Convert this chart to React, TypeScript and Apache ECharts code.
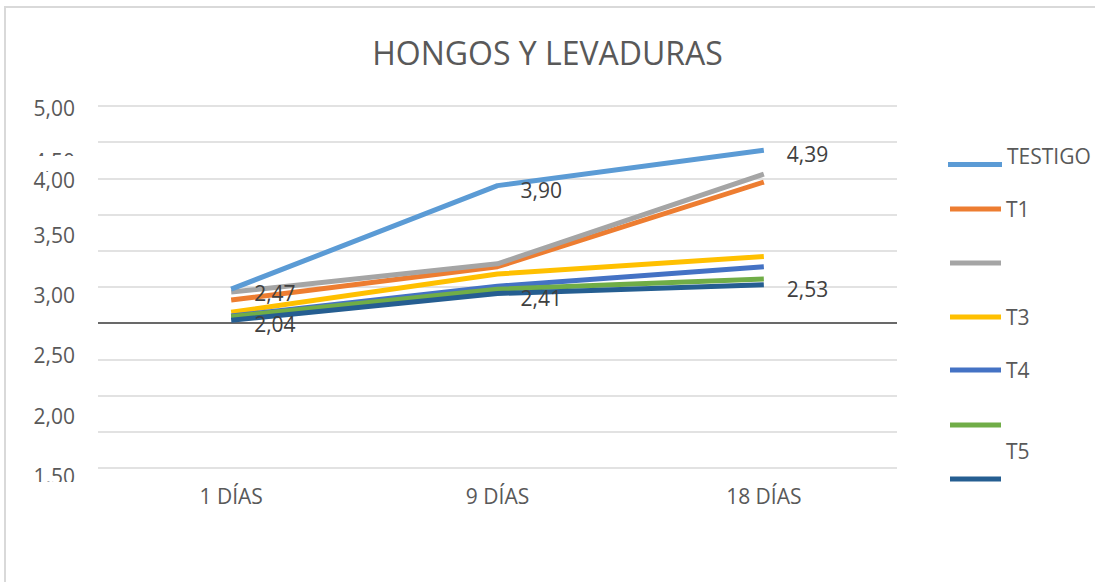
import React, { useEffect, useRef } from "react";
import * as echarts from "echarts";

// ---- data ----
const categories = ["1 DÍAS", "9 DÍAS", "18 DÍAS"];
const seriesNames = ["TESTIGO", "T1", "T2", "T3", "T4", "T5", "T6"];
const testigo = [2.47, 3.9, 4.39];
const t1 = [2.32, 2.78, 3.95];
const t2 = [2.43, 2.82, 4.06];
const t3 = [2.15, 2.68, 2.92];
const t4 = [2.1, 2.51, 2.78];
const t5 = [2.09, 2.47, 2.61];
const t6 = [2.04, 2.41, 2.53];
const legendTexts = ["TESTIGO", "T1", "", "T3", "T4", "", "T5"];
const yTickLabels = ["5,00", "4,50", "4,00", "3,50", "3,00", "2,50", "2,00", "1,50"];
const crossValue = 2;

// ---- layout / style ----
const colors = ["#5B9BD5", "#ED7D31", "#A5A5A5", "#FFC000", "#4472C4", "#70AD47", "#255E91"];
const labelled = [true, false, false, false, false, false, true];
const seriesZ = [10, 3, 4, 5, 6, 7, 9];
const yLabelY = [108, 161, 180, 235, 295, 355, 416, 476];
const legendIconY = [163, 209, 263, 317, 370, 425, 479];
// text lines stacked below the label (to lift the label above its icon) and line height per item
const legendExtraLines = [1, 0, 0, 0, 0, 0, 2];
const legendLineH = [18, 28, 28, 28, 28, 28, 28];
const legendLeft = [948, 950, 950, 950, 950, 950, 950];
const legendItemW = [54, 51, 51, 51, 51, 51, 51];
const FONT = "Open Sans";
const TXT = "#595959";

export default function App() {
  const ref = useRef<HTMLDivElement>(null);
  useEffect(() => {
    if (!ref.current) return;
    const chart = echarts.init(ref.current, undefined, { renderer: "svg" });
    const allData = [testigo, t1, t2, t3, t4, t5, t6];
    const series: any[] = allData.map((d, i) => ({
      name: seriesNames[i],
      type: "line",
      data: d,
      symbol: labelled[i] ? "circle" : "none",
      symbolSize: 0.01,
      showSymbol: labelled[i],
      lineStyle: { width: 5, color: colors[i] },
      itemStyle: { color: colors[i] },
      label: labelled[i]
        ? {
            show: true,
            position: "right",
            distance: 23,
            offset: [0, 4],
            fontFamily: FONT,
            fontSize: 21,
            color: "#404040",
            formatter: (p: any) => Number(p.value).toFixed(2).replace(".", ","),
          }
        : { show: false },
      z: seriesZ[i],
    }));
    series[6].markLine = {
      silent: true,
      symbol: ["none", "none"],
      label: { show: false },
      lineStyle: { color: "#404040", width: 1.5, type: "solid" },
      data: [{ yAxis: crossValue }],
    };

    const legends = seriesNames.map((n, i) => {
      const txt = legendTexts[i];
      const lines = 1 + legendExtraLines[i];
      const H = txt ? lines * legendLineH[i] : 5;
      return {
        data: [n],
        orient: "vertical",
        left: legendLeft[i],
        top: legendIconY[i] - H / 2,
        padding: 0,
        itemWidth: legendItemW[i],
        itemHeight: 5,
        icon: "rect",
        selectedMode: false,
        formatter: () => (txt ? txt + "\n".repeat(legendExtraLines[i]) : ""),
        textStyle: {
          fontFamily: FONT,
          fontSize: 21,
          lineHeight: legendLineH[i],
          color: TXT,
        },
      };
    });

    const graphics: any[] = [
      {
        type: "rect",
        shape: { x: 5, y: 7, width: 1200, height: 700 },
        style: { fill: "none", stroke: "#D9D9D9", lineWidth: 2 },
        silent: true,
      },
    ];
    yTickLabels.forEach((t, i) => {
      graphics.push({
        type: "text",
        x: 75,
        y: yLabelY[i],
        style: {
          text: t,
          fontFamily: FONT,
          fontSize: 21,
          lineHeight: 16,
          fill: TXT,
          align: "right",
          verticalAlign: "middle",
        },
      });
    });
    graphics.push({ type: "rect", shape: { x: 20, y: 156, width: 70, height: 15 }, style: { fill: "#fff" } });
    graphics.push({ type: "rect", shape: { x: 20, y: 482, width: 70, height: 12 }, style: { fill: "#fff" } });

    chart.setOption({
      animation: false,
      color: colors,
      title: {
        text: "HONGOS Y LEVADURAS",
        left: "center",
        top: 27,
        textStyle: { fontFamily: FONT, fontSize: 32, fontWeight: "normal", color: TXT, lineHeight: 40 },
      },
      legend: legends,
      grid: { left: 98, right: 198, top: 106, bottom: 114, containLabel: false },
      xAxis: {
        type: "category",
        data: categories,
        boundaryGap: true,
        axisLine: { show: false },
        axisTick: { show: false },
        axisLabel: { fontFamily: FONT, fontSize: 21, color: TXT, margin: 17 },
      },
      yAxis: {
        type: "value",
        min: 0,
        max: 5,
        interval: 0.5,
        axisLabel: { show: false },
        axisLine: { show: false },
        axisTick: { show: false },
        splitLine: { lineStyle: { color: "#D9D9D9", width: 1.5 } },
      },
      series,
      graphic: graphics,
    });
    return () => chart.dispose();
  }, []);
  return (
    <div
      ref={ref}
      style={{ position: "fixed", left: 0, top: 0, width: 1095, height: 582, background: "#fff" }}
    />
  );
}
